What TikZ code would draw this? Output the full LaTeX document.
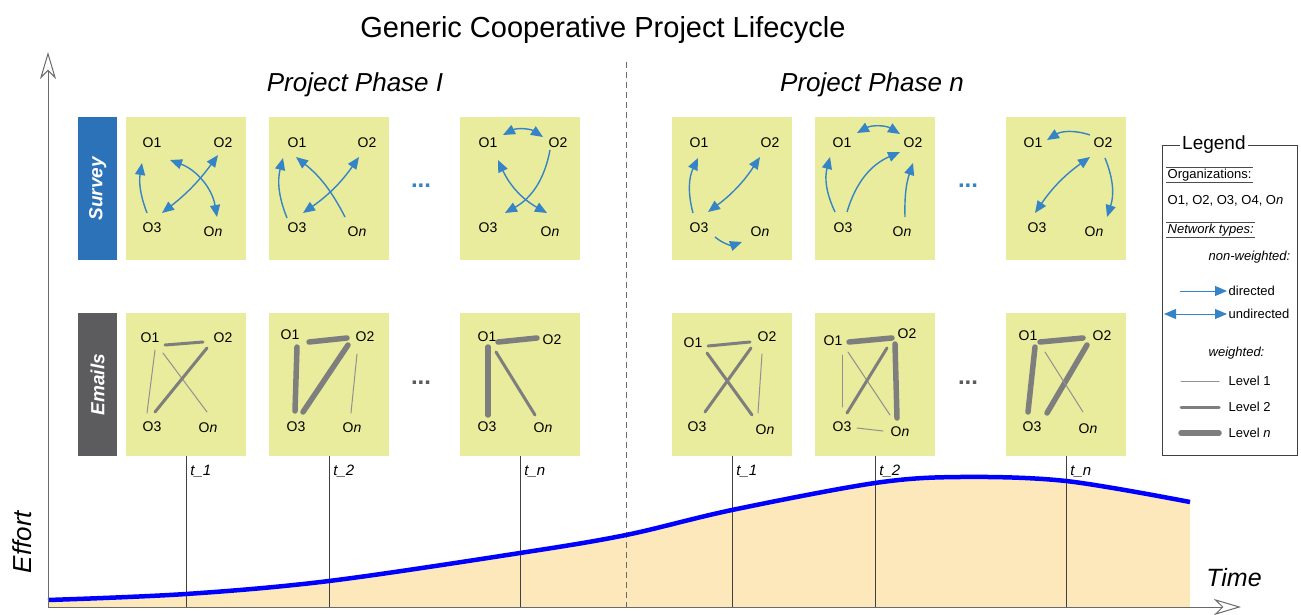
\documentclass[tikz,border=0pt]{standalone}
\usepackage{fontspec}
\setmainfont{Liberation Sans}
\usetikzlibrary{arrows.meta,calc}

\definecolor{boxyellow}{HTML}{E9EC9C}
\definecolor{surveyblue}{HTML}{2B72B8}
\definecolor{emailgray}{HTML}{5C5C5E}
\definecolor{arrowblue}{HTML}{3584C6}
\definecolor{edgegray}{HTML}{7E7E7E}
\definecolor{effortfill}{HTML}{FDE8BB}
\definecolor{axisgray}{HTML}{6A6A6A}

\tikzset{
  ybox/.style={fill=boxyellow, minimum width=120pt, minimum height=143pt, inner sep=0pt, anchor=north west},
  rowlab/.style={minimum width=39pt, minimum height=143pt, inner sep=0pt, anchor=north west,
    text=white, font=\fontsize{19}{19}\selectfont\bfseries\itshape},
  org/.style={inner sep=0pt, font=\fontsize{14}{14}\selectfont},
  dir/.style={draw=arrowblue, line width=1.4pt, -{Triangle[length=12pt,width=10pt]}},
  undir/.style={draw=arrowblue, line width=1.4pt, {Triangle[length=12pt,width=10pt]}-{Triangle[length=12pt,width=10pt]}},
  lvone/.style={draw=edgegray!85, line width=1pt, line cap=round},
  lvtwo/.style={draw=edgegray, line width=3pt, line cap=round},
  lvn/.style={draw=edgegray, line width=5.5pt, line cap=round},
  more/.style={font=\fontsize{24}{24}\selectfont\bfseries},
  tlab/.style={anchor=west, inner sep=0pt, font=\fontsize{15}{15}\selectfont\itshape},
  tline/.style={draw=black!75, line width=0.8pt},
  axis/.style={draw=axisgray, line width=1pt},
  legtxt/.style={anchor=west, inner sep=1.5pt, font=\fontsize{13}{13}\selectfont},
}

\begin{document}
\begin{tikzpicture}[x=1pt,y=-1pt]
\useasboundingbox (0,0) rectangle (1301,615);

% effort area and reference coordinates
\coordinate (orig) at (48,607);
\coordinate (ytip) at (48,52);
\coordinate (xtip) at (1241,607);
\fill[effortfill] (48,607) -- plot[smooth, tension=0.55] coordinates {(48,600) (186,594) (329,581) (520,553) (626,535) (732,510) (875,483) (960,477) (1066,481) (1190,502)} -- (1190,607) -- cycle;

% headings
\node[font=\fontsize{29}{29}\selectfont] (title) at (603,30) {Generic Cooperative Project Lifecycle};
\node[font=\fontsize{26}{26}\selectfont\itshape] (ph1) at (355,85) {Project Phase I};
\node[font=\fontsize{26}{26}\selectfont\itshape] (phn) at (872,85) {Project Phase n};

% phase separator
\coordinate (dtop) at (626,62);
\draw[axisgray, line width=1pt, dash pattern=on 6pt off 4pt] (dtop) -- (dtop |- orig);

% row labels
\node[rowlab, fill=surveyblue] (survey) at (78,117) {\rotatebox{90}{Survey}};
\node[rowlab, fill=emailgray] (emails) at (78,313) {\rotatebox{90}{Emails}};

% network boxes
\foreach \k/\x in {1/126, 2/269, 3/460, 4/672, 5/815, 6/1006} {
  \node[ybox] (sb\k) at (\x,117) {};
  \node[ybox] (eb\k) at (\x,313) {};
}

% continuation dots
\node[more, text=arrowblue] (sdots1) at (421,186) {...};
\node[more, text=arrowblue] (sdots2) at (968,186) {...};
\node[more, text=emailgray] (edots1) at (421,383) {...};
\node[more, text=emailgray] (edots2) at (968,383) {...};

% ---------- survey networks ----------
% organizations
\foreach \k/\ax/\bx/\cx/\nx in {1/152/223/152/213, 2/297/367/297/357, 3/488/558/488/550,
                                4/699/770/699/760, 5/842/913/843/902, 6/1033/1103/1037/1094} {
  \node[org] (s\k a) at (\ax,143) {O1};
  \node[org] (s\k b) at (\bx,143) {O2};
  \node[org] (s\k c) at (\cx,228) {O3};
  \node[org] (s\k n) at (\nx,232) {O\textit{n}};
}

% survey 1
\draw[dir]   ([shift={(-5,-15)}]s1c.center) to[bend left=15] ([shift={(-10,20)}]s1a.center);
\draw[undir] ([shift={(10,-15)}]s1c.center) to[bend right=8] ([shift={(-5,12)}]s1b.center);
\draw[undir] ([shift={(18,17)}]s1a.center) to[bend left=30] ([shift={(4,-15)}]s1n.center);
% survey 2
\draw[dir]   ([shift={(-10,-10)}]s2c.center) to[bend left=18] ([shift={(-14,15)}]s2a.center);
\draw[dir]   ([shift={(-12,-15)}]s2n.center) to[bend right=12] ([shift={(-1,14)}]s2a.center);
\draw[undir] ([shift={(6,-15)}]s2c.center) to[bend right=10] ([shift={(-8,14)}]s2b.center);
% survey 3
\draw[undir] ([shift={(15,-8)}]s3a.center) to[bend left=30] ([shift={(-15,-6)}]s3b.center);
\draw[dir]   ([shift={(-8,7)}]s3b.center) to[bend left=25] ([shift={(17,-15)}]s3c.center);
\draw[undir] ([shift={(10,17)}]s3a.center) to[bend right=18] ([shift={(-3,-19)}]s3n.center);
% survey 4
\draw[dir]   ([shift={(-6,-15)}]s4c.center) to[bend left=20] ([shift={(-1,15)}]s4a.center);
\draw[undir] ([shift={(9,-16)}]s4c.center) to[bend right=10] ([shift={(-10,14)}]s4b.center);
\draw[dir]   ([shift={(16,9)}]s4c.center) to[bend right=30] ([shift={(-18,10)}]s4n.center);
% survey 5
\draw[undir] ([shift={(15,-10)}]s5a.center) to[bend left=30] ([shift={(-13,-9)}]s5b.center);
\draw[dir]   ([shift={(-8,-16)}]s5c.center) to[bend left=20] ([shift={(-12,14)}]s5a.center);
\draw[dir]   ([shift={(4,-16)}]s5c.center) to[bend left=25] ([shift={(-13,9)}]s5b.center);
\draw[dir]   ([shift={(3,-15)}]s5n.center) to[bend left=10] ([shift={(0,20)}]s5b.center);
% survey 6
\draw[dir]   ([shift={(-13,-8)}]s6b.center) to[bend right=25] ([shift={(14,-3)}]s6a.center);
\draw[undir] ([shift={(-13,14)}]s6b.center) to[bend right=10] ([shift={(-2,-15)}]s6c.center);
\draw[dir]   ([shift={(2,15)}]s6b.center) to[bend left=20] ([shift={(13,-15)}]s6n.center);

% ---------- email networks ----------
\node[org] (e1a) at (150,338) {O1};  \node[org] (e1b) at (223,338) {O2};
\node[org] (e1c) at (152,427) {O3};  \node[org] (e1n) at (208,428) {O\textit{n}};
\node[org] (e2a) at (290,335) {O1};  \node[org] (e2b) at (365,337) {O2};
\node[org] (e2c) at (296,427) {O3};  \node[org] (e2n) at (352,428) {O\textit{n}};
\node[org] (e3a) at (487,337) {O1};  \node[org] (e3b) at (552,340) {O2};
\node[org] (e3c) at (487,427) {O3};  \node[org] (e3n) at (543,428) {O\textit{n}};
\node[org] (e4a) at (693,343) {O1};  \node[org] (e4b) at (767,337) {O2};
\node[org] (e4c) at (697,427) {O3};  \node[org] (e4n) at (765,430) {O\textit{n}};
\node[org] (e5a) at (833,341) {O1};  \node[org] (e5b) at (907,334) {O2};
\node[org] (e5c) at (842,427) {O3};  \node[org] (e5n) at (900,432) {O\textit{n}};
\node[org] (e6a) at (1028,336) {O1}; \node[org] (e6b) at (1102,336) {O2};
\node[org] (e6c) at (1032,427) {O3}; \node[org] (e6n) at (1088,429) {O\textit{n}};

% emails 1
\draw[lvtwo] ([shift={(15,7)}]e1a.center) -- ([shift={(-20,4)}]e1b.center);
\draw[lvone] ([shift={(5,12)}]e1a.center) -- ([shift={(-5,-14)}]e1c.center);
\draw[lvone] ([shift={(13,15)}]e1a.center) -- ([shift={(-1,-16)}]e1n.center);
\draw[lvtwo] ([shift={(-16,10)}]e1b.center) -- ([shift={(3,-15)}]e1c.center);
% emails 2
\draw[lvn]   ([shift={(19,7)}]e2a.center) -- ([shift={(-18,1)}]e2b.center);
\draw[lvn]   ([shift={(7,12)}]e2a.center) -- ([shift={(-1,-16)}]e2c.center);
\draw[lvn]   ([shift={(-17,8)}]e2b.center) -- ([shift={(7,-15)}]e2c.center);
\draw[lvone] ([shift={(-8,17)}]e2b.center) -- ([shift={(-1,-15)}]e2n.center);
% emails 3
\draw[lvn]   ([shift={(11,5)}]e3a.center) -- ([shift={(-15,-2)}]e3b.center);
\draw[lvn]   ([shift={(1,10)}]e3a.center) -- ([shift={(1,-12)}]e3c.center);
\draw[lvtwo] ([shift={(9,15)}]e3a.center) -- ([shift={(-8,-13)}]e3n.center);
% emails 4
\draw[lvtwo] ([shift={(15,3)}]e4a.center) -- ([shift={(-17,5)}]e4b.center);
\draw[lvtwo] ([shift={(14,10)}]e4a.center) -- ([shift={(-13,-15)}]e4n.center);
\draw[lvtwo] ([shift={(-16,11)}]e4b.center) -- ([shift={(8,-15)}]e4c.center);
\draw[lvone] ([shift={(-5,17)}]e4b.center) -- ([shift={(-7,-17)}]e4n.center);
% emails 5
\draw[lvn]   ([shift={(16,1)}]e5a.center) -- ([shift={(-15,4)}]e5b.center);
\draw[lvone] ([shift={(9,14)}]e5a.center) -- ([shift={(0,-20)}]e5c.center);
\draw[lvone] ([shift={(15,11)}]e5a.center) -- ([shift={(-10,-17)}]e5n.center);
\draw[lvtwo] ([shift={(-20,14)}]e5b.center) -- ([shift={(5,-14)}]e5c.center);
\draw[lvn]   ([shift={(-12,10)}]e5b.center) -- ([shift={(-3,-14)}]e5n.center);
\draw[lvone] ([shift={(15,1)}]e5c.center) -- ([shift={(-17,-1)}]e5n.center);
% emails 6
\draw[lvn]   ([shift={(12,6)}]e6a.center) -- ([shift={(-19,2)}]e6b.center);
\draw[lvn]   ([shift={(7,11)}]e6a.center) -- ([shift={(-4,-15)}]e6c.center);
\draw[lvn]   ([shift={(-15,9)}]e6b.center) -- ([shift={(15,-14)}]e6c.center);
\draw[lvone] ([shift={(17,16)}]e6a.center) -- ([shift={(-5,-17)}]e6n.center);

% ---------- time markers ----------
\foreach \k/\t in {1/t\_1, 2/t\_2, 3/t\_n, 4/t\_1, 5/t\_2, 6/t\_n} {
  \draw[tline] (eb\k.south) -- (eb\k.south |- orig);
  \node[tlab] (tl\k) at ([shift={(4,15)}]eb\k.south) {\t};
}

% effort curve
\draw[blue, line width=4.5pt] plot[smooth, tension=0.55] coordinates {(48,600) (186,594) (329,581) (520,553) (626,535) (732,510) (875,483) (960,477) (1066,481) (1190,502)};

% axes
\draw[axis, -{Stealth[open, length=27pt, width=16pt, inset=8pt]}] (orig) -- (ytip);
\draw[axis, -{Stealth[open, length=27pt, width=16pt, inset=8pt]}] (orig) -- (xtip);
\node[rotate=90, font=\fontsize{26}{26}\selectfont\itshape] (effort) at (22,542) {Effort};
\node[font=\fontsize{25}{25}\selectfont\itshape] (time) at (1234,578) {Time};

% ---------- legend ----------
\node[draw=black!75, line width=0.8pt, minimum width=135pt, minimum height=310pt, inner sep=0pt, anchor=north west] (legend) at (1162,145) {};
\node[fill=white, inner sep=2pt, font=\fontsize{19}{19}\selectfont] (legtitle) at ([xshift=-16]legend.north) {Legend};
\node[legtxt] (legorg) at (1166,175) {Organizations:};
\draw[black!70, line width=0.7pt] (legorg.north west) -- (legorg.north east);
\draw[black!70, line width=0.7pt] (legorg.south west) -- (legorg.south east);
\node[legtxt] (leglist) at (1166,201) {O1, O2, O3, O4, O\textit{n}};
\node[legtxt, font=\fontsize{13}{13}\selectfont\itshape] (legnet) at (1166,230) {Network types:};
\draw[black!70, line width=0.7pt] (legnet.north west) -- (legnet.north east);
\draw[black!70, line width=0.7pt] (legnet.south west) -- (legnet.south east);
\node[legtxt, anchor=east, font=\fontsize{13}{13}\selectfont\itshape] (legnw) at (1292,257) {non-weighted:};
\node[legtxt] (legdir) at (1227,291) {directed};
\node[legtxt] (legundir) at (1227,314) {undirected};
\node[legtxt, font=\fontsize{13}{13}\selectfont\itshape] (legw) at (1207,353) {weighted:};
\node[legtxt] (legl1) at (1227,381) {Level 1};
\node[legtxt] (legl2) at (1227,407) {Level 2};
\node[legtxt] (legln) at (1227,433) {Level \textit{n}};
\coordinate (ldirA) at (1180,291);
\coordinate (lundA) at (1164,314);
\coordinate (lvA) at (1181,381);
\coordinate (lvB) at (1181,407);
\coordinate (lvC) at (1181,433);
\draw[dir, line width=1pt] (ldirA) -- (legdir.west);
\draw[undir, line width=1pt] (lundA) -- (legundir.west);
\draw[lvone] (lvA) -- ([xshift=-8]legl1.west);
\draw[lvtwo] (lvB) -- ([xshift=-8]legl2.west);
\draw[lvn] (lvC) -- ([xshift=-8]legln.west);
\end{tikzpicture}
\end{document}
